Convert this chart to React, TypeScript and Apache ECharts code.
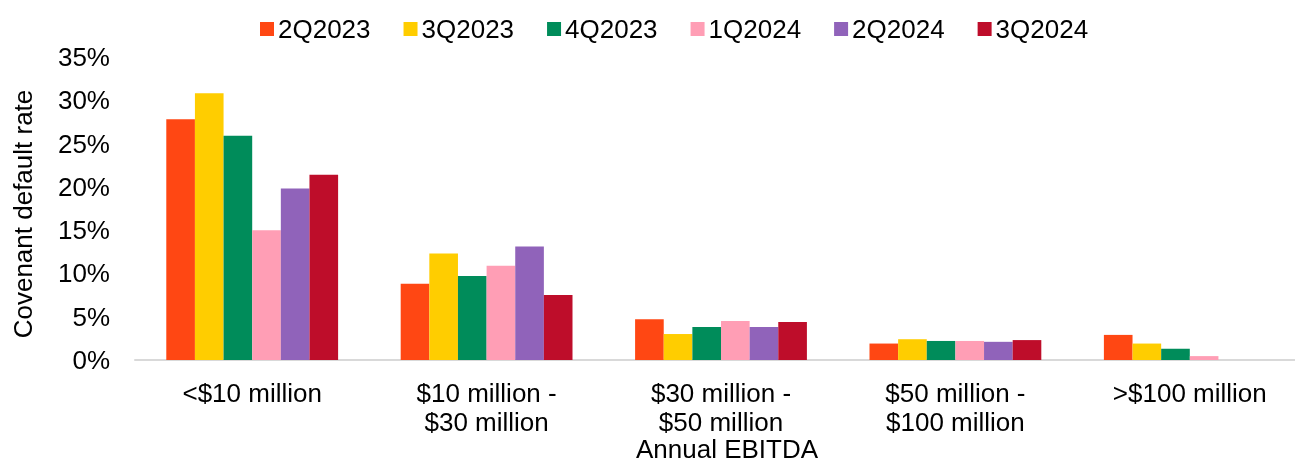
import React, { useEffect, useRef } from "react";
import * as echarts from "echarts";

const categories = ["<$10 million", "$10 million -\n$30 million", "$30 million -\n$50 million", "$50 million -\n$100 million", ">$100 million"];
const seriesNames = ["2Q2023", "3Q2023", "4Q2023", "1Q2024", "2Q2024", "3Q2024"];
const q2_2023 = [27.8, 8.8, 4.7, 1.9, 2.9];
const q3_2023 = [30.8, 12.3, 3.0, 2.4, 1.9];
const q4_2023 = [25.9, 9.7, 3.8, 2.2, 1.3];
const q1_2024 = [15.0, 10.9, 4.5, 2.2, 0.45];
const q2_2024 = [19.8, 13.1, 3.8, 2.1, null];
const q3_2024 = [21.4, 7.5, 4.4, 2.3, null];
const seriesValues = [q2_2023, q3_2023, q4_2023, q1_2024, q2_2024, q3_2024];
const colors = ["#FF4713", "#FFCD00", "#008C5A", "#FF9EB5", "#9063BA", "#BE0D2A"];
const yAxisTitle = "Covenant default rate";
const xAxisTitle = "Annual EBITDA";

const FONT = "'Liberation Sans', Arial, sans-serif";
const FS = 26;

export default function App() {
  const ref = useRef<HTMLDivElement>(null);
  useEffect(() => {
    if (!ref.current) return;
    const chart = echarts.init(ref.current, null, { renderer: "svg" });
    chart.setOption({
      animation: false,
      textStyle: { fontFamily: FONT },
      color: colors,
      legend: {
        top: 16,
        left: 260,
        padding: 0,
        itemWidth: 14,
        itemHeight: 14,
        itemGap: 33,
        icon: "rect",
        textStyle: { fontSize: FS, color: "#000", fontFamily: FONT, padding: [0, 0, 0, -1] },
        data: seriesNames,
      },
      grid: { left: 135, right: -12, top: 57, bottom: 102, containLabel: false, outerBoundsMode: "none" },
      xAxis: {
        type: "category",
        data: categories,
        axisLine: { lineStyle: { color: "#D9D9D9", width: 2 } },
        axisTick: { show: false },
        axisLabel: { fontSize: FS, color: "#000", fontFamily: FONT, lineHeight: 29, margin: 18, interval: 0 },
      },
      yAxis: {
        type: "value",
        min: 0,
        max: 35,
        interval: 5,
        splitLine: { show: false },
        axisLine: { show: false },
        axisTick: { show: false },
        axisLabel: { fontSize: FS, color: "#000", fontFamily: FONT, margin: 25, formatter: "{value}%" },
      },
      graphic: [
        {
          type: "text",
          x: 23,
          y: 214,
          rotation: Math.PI / 2,
          style: {
            text: yAxisTitle,
            fontSize: FS,
            fontFamily: FONT,
            fill: "#000",
            align: "center",
            verticalAlign: "middle",
          },
        },
        {
          type: "text",
          x: 727,
          y: 449,
          style: {
            text: xAxisTitle,
            fontSize: FS,
            lineHeight: 24,
            fontFamily: FONT,
            fill: "#000",
            align: "center",
            verticalAlign: "middle",
          },
        },
      ],
      series: seriesNames.map((name, i) => ({
        name,
        type: "bar",
        data: seriesValues[i],
        barGap: "0%",
        barCategoryGap: "26.7%",
        itemStyle: { color: colors[i] },
      })),
    });
    return () => chart.dispose();
  }, []);
  return <div ref={ref} style={{ position: "fixed", left: 0, top: 0, width: 1295, height: 462 }} />;
}
